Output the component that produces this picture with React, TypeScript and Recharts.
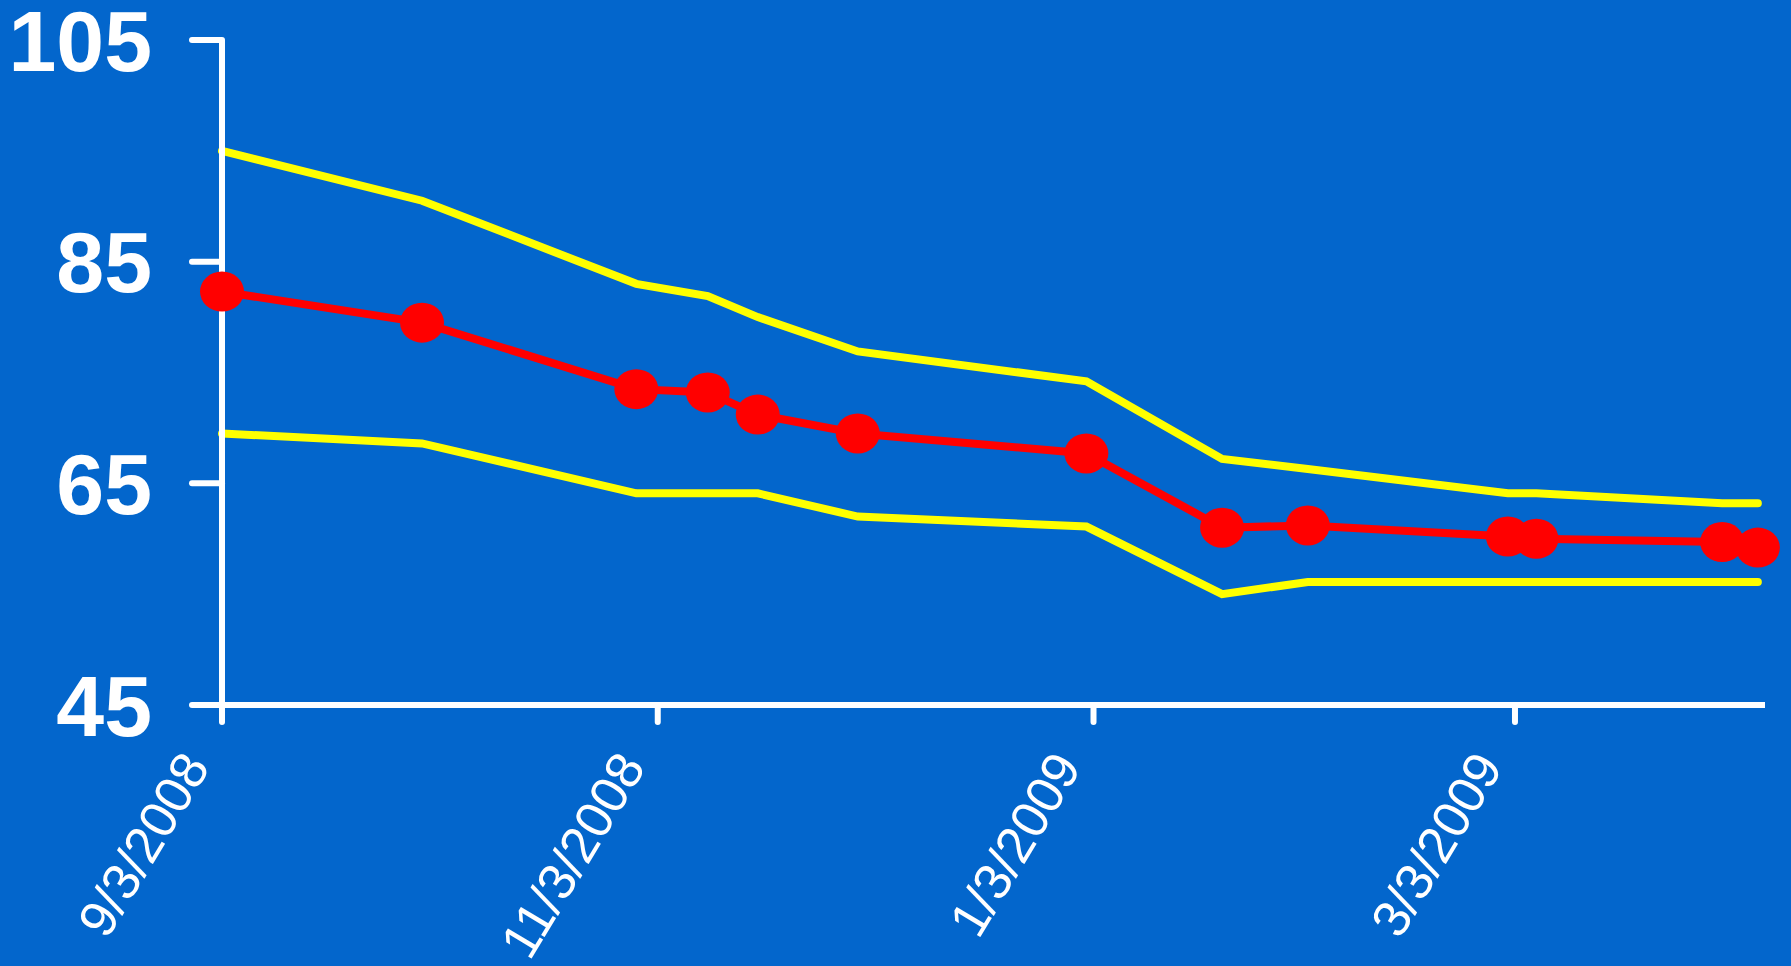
import { CartesianGrid, Line, LineChart, XAxis, YAxis } from "recharts";

// days since 9/3/2008 for each measurement
const dayOffsets = [0, 28, 58, 68, 75, 89, 121, 140, 152, 180, 184, 210, 215];
const meanValues = [82.3, 79.5, 73.5, 73.2, 71.2, 69.5, 67.7, 61.0, 61.2, 60.2, 60.0, 59.7, 59.2];
const upperValues = [95.0, 90.5, 83.0, 81.9, 80.0, 76.9, 74.2, 67.2, 66.3, 64.1, 64.1, 63.2, 63.2];
const lowerValues = [69.5, 68.6, 64.1, 64.1, 64.1, 62.0, 61.1, 55.0, 56.1, 56.1, 56.1, 56.1, 56.1];

const tickDays = [0, 61, 122, 181];
const tickLabels = ["9/3/2008", "11/3/2008", "1/3/2009", "3/3/2009"];
const yTicks = [45, 65, 85, 105];

const data = dayOffsets.map((day, i) => ({
  day,
  mean: meanValues[i],
  upper: upperValues[i],
  lower: lowerValues[i],
}));

function DateTick({ x, y, payload }: any) {
  const label = tickLabels[tickDays.indexOf(payload.value)] ?? "";
  return (
    <g transform={`translate(${x - 11},${y + 43})`}>
      <text
        textAnchor="end"
        transform="rotate(-59)"
        fill="#fff"
        fontSize={52}
        fontFamily="'Liberation Sans', Arial, sans-serif"
      >
        {label}
      </text>
    </g>
  );
}

// markers in the original are slightly wider than tall
function OvalDot({ cx, cy, index }: any) {
  if (cx == null || cy == null) return null;
  return <ellipse key={index} cx={cx} cy={cy} rx={22} ry={20} fill="#ff0000" />;
}

export default function App() {
  return (
    <div
      style={{
        position: "absolute",
        left: 0,
        top: 0,
        width: 1791,
        height: 966,
        background: "#0366cc",
        overflow: "hidden",
      }}
    >
      <LineChart
        width={1791}
        height={966}
        data={data}
        margin={{ top: 40, right: 26, bottom: 0, left: 0 }}
      >
        <CartesianGrid stroke="none" />
        <XAxis
          type="number"
          dataKey="day"
          domain={[0, 216]}
          ticks={tickDays}
          height={261}
          tickSize={17}
          axisLine={{ stroke: "#fff", strokeWidth: 6 }}
          tickLine={{ stroke: "#fff", strokeWidth: 6, strokeLinecap: "round" }}
          tick={<DateTick />}
          interval={0}
        />
        <YAxis
          type="number"
          domain={[45, 105]}
          ticks={yTicks}
          width={222}
          tickSize={30}
          tickMargin={40}
          axisLine={{ stroke: "#fff", strokeWidth: 6 }}
          tickLine={{ stroke: "#fff", strokeWidth: 6, strokeLinecap: "round" }}
          tick={{
            fill: "#fff",
            fontSize: 86,
            fontWeight: "bold",
            fontFamily: "'Liberation Sans', Arial, sans-serif",
          }}
          interval={0}
        />
        <Line
          type="linear"
          dataKey="upper"
          stroke="#ffff00"
          strokeWidth={8}
          strokeLinecap="round"
          dot={false}
          activeDot={false}
          isAnimationActive={false}
        />
        <Line
          type="linear"
          dataKey="lower"
          stroke="#ffff00"
          strokeWidth={8}
          strokeLinecap="round"
          dot={false}
          activeDot={false}
          isAnimationActive={false}
        />
        <Line
          type="linear"
          dataKey="mean"
          stroke="#ff0000"
          strokeWidth={8}
          dot={<OvalDot />}
          activeDot={false}
          isAnimationActive={false}
        />
      </LineChart>
    </div>
  );
}
